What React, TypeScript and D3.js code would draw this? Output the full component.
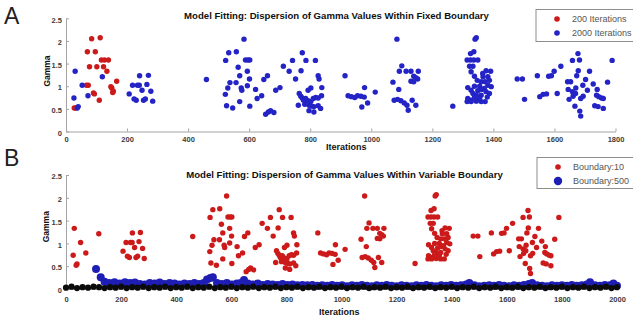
import { useEffect, useRef } from 'react'
import * as d3 from 'd3'

type Pt = [number, number] // [iteration, gamma]

const FONT = '"Liberation Sans", Arial, Helvetica, sans-serif'
const RED = '#cc1a1a'
const BLUE = '#2323c6'
const BLUE_B = '#1e1eb4'
const BLACK = '#0b0b0b'
const AXIS = '#a3a3a3'

// ---- panel A: fixed boundary ----
const A_X_TICKS = [0, 200, 400, 600, 800, 1000, 1200, 1400, 1600, 1800]
const B_X_TICKS = [0, 200, 400, 600, 800, 1000, 1200, 1400, 1600, 1800, 2000]
const Y_TICKS = [0, 0.5, 1, 1.5, 2, 2.5]

const fixed200: Pt[] = [
  [84, 2.05], [112, 2.07], [70, 1.76], [96, 1.76], [77, 1.43], [101, 1.43],
  [116, 1.58], [126, 1.58], [139, 1.58], [123, 1.43], [134, 1.33], [73, 1.02],
  [67, 1.02], [90, 0.85], [93, 0.83], [147, 0.99], [150, 0.96], [155, 0.89],
  [153, 0.86], [166, 1.11], [109, 0.69], [27, 0.52], [32, 0.52],
]

const fixed2000: Pt[] = [
  [30, 1.33], [26, 0.74], [40, 0.55], [37, 0.52], [53, 1.02], [72, 0.79], [119, 1.21],
  [207, 0.83], [218, 1.02], [234, 1.02], [240, 1.02], [241, 1.23], [270, 1.24], [265, 1.04],
  [249, 0.91], [223, 0.72], [230, 0.69], [254, 0.69], [260, 0.72], [278, 0.89], [284, 0.67],
  [460, 1.15], [583, 2.04], [533, 1.74], [558, 1.76], [523, 1.57], [588, 1.58], [596, 1.58],
  [602, 1.58], [564, 1.42], [594, 1.33], [569, 1.23], [537, 1.08], [530, 0.96], [557, 1.08],
  [574, 0.96], [576, 0.91], [594, 1.01], [601, 1.16], [522, 0.82], [621, 0.93], [648, 1.15],
  [660, 1.23], [526, 0.57], [546, 0.52], [569, 0.66], [602, 0.56], [626, 0.73], [641, 0.79],
  [654, 0.38], [663, 0.43], [670, 0.46], [681, 0.42], [687, 0.91], [701, 0.97], [712, 1.44],
  [731, 1.33], [742, 1.57], [774, 1.74], [770, 1.34], [786, 1.57], [817, 1.57], [752, 1.16],
  [826, 1.23], [829, 1.16], [802, 0.96], [793, 0.91], [838, 0.97], [764, 0.84], [769, 0.78],
  [774, 0.74], [778, 0.69], [785, 0.73], [793, 0.68], [802, 0.66], [810, 0.73], [818, 0.75],
  [826, 0.74], [837, 0.79], [761, 0.58], [782, 0.6], [796, 0.58], [805, 0.56], [812, 0.55],
  [826, 0.57], [834, 0.51], [796, 0.46], [812, 0.43],
  [914, 1.23], [1084, 2.04], [1100, 1.45], [1092, 1.33], [1114, 1.33], [1130, 1.33], [1154, 1.33],
  [1139, 1.22], [1146, 1.19], [1130, 1.11], [1139, 1.1], [1152, 1.16], [1071, 1.09], [1090, 0.93],
  [978, 0.97], [1013, 0.87], [924, 0.79], [935, 0.77], [946, 0.75], [955, 0.79], [966, 0.78],
  [977, 0.76], [988, 0.63], [969, 0.54], [1075, 0.69], [1086, 0.71], [1097, 0.68], [1108, 0.63],
  [1117, 0.58], [1134, 0.69], [1146, 0.58], [1121, 0.47], [1267, 0.56],
  [1340, 2.04], [1344, 2.07], [1325, 1.72], [1336, 1.76], [1314, 1.58], [1325, 1.58], [1336, 1.58],
  [1349, 1.58], [1322, 1.44], [1333, 1.44], [1327, 1.32], [1376, 1.34], [1391, 1.33], [1338, 1.22],
  [1366, 1.21], [1382, 1.21], [1347, 1.13], [1360, 1.1], [1373, 1.1], [1387, 1.13], [1338, 1.0],
  [1355, 1.0], [1382, 1.02], [1393, 0.99], [1316, 0.97], [1327, 0.91], [1349, 0.9], [1362, 0.93],
  [1376, 0.88], [1333, 0.84], [1344, 0.8], [1360, 0.8], [1387, 0.84], [1316, 0.73], [1327, 0.69],
  [1338, 0.75], [1355, 0.73], [1314, 0.66], [1327, 0.66], [1344, 0.67], [1360, 0.66], [1373, 0.66],
  [1370, 0.95], [1380, 0.76], [1365, 1.28],
  [1478, 1.16], [1495, 1.16], [1502, 0.71], [1544, 1.23], [1552, 0.77], [1563, 0.82], [1574, 0.83],
  [1581, 1.22], [1590, 1.23], [1599, 1.33], [1621, 1.44], [1609, 0.84], [1677, 1.72], [1659, 1.57],
  [1682, 1.58], [1678, 1.34], [1715, 1.33], [1673, 1.23], [1643, 1.1], [1653, 1.1], [1702, 1.15],
  [1693, 1.02], [1727, 1.05], [1774, 1.09], [1789, 1.57], [1645, 0.93], [1659, 0.88], [1670, 0.96],
  [1708, 0.91], [1740, 0.93], [1648, 0.71], [1661, 0.78], [1669, 0.84], [1686, 0.73], [1694, 0.78],
  [1738, 0.8], [1745, 0.77], [1754, 0.74], [1760, 0.73], [1667, 0.56], [1732, 0.57], [1743, 0.55],
  [1760, 0.51], [1683, 0.45], [1686, 0.34],
]

// ---- panel B: variable boundary ----
// boundary 10 run lands on exactly the same gammas as the fixed 2000-iteration run
const variable10: Pt[] = fixed2000

const variable500: Pt[] = [
  [109, 0.44], [126, 0.26], [140, 0.16], [158, 0.13], [176, 0.15], [195, 0.12], [214, 0.15],
  [232, 0.13], [250, 0.14], [268, 0.11], [286, 0.1], [304, 0.13], [322, 0.12], [340, 0.14],
  [358, 0.11], [376, 0.13], [394, 0.12], [412, 0.1], [430, 0.12], [448, 0.11], [466, 0.13],
  [484, 0.11], [500, 0.13], [512, 0.21], [524, 0.24], [533, 0.26], [548, 0.13], [566, 0.11],
  [584, 0.13], [602, 0.1], [620, 0.12], [634, 0.13], [646, 0.2], [660, 0.12], [678, 0.1],
  [696, 0.12], [714, 0.09], [732, 0.11], [750, 0.1], [768, 0.09], [786, 0.11], [804, 0.09],
  [822, 0.1], [840, 0.08], [858, 0.09], [876, 0.08], [894, 0.09], [912, 0.07], [930, 0.08],
  [948, 0.07], [966, 0.09], [984, 0.07], [1002, 0.08], [1020, 0.06], [1038, 0.08], [1056, 0.07],
  [1074, 0.09], [1092, 0.07], [1110, 0.06], [1128, 0.08], [1146, 0.07], [1164, 0.09], [1182, 0.07],
  [1200, 0.06], [1218, 0.08], [1236, 0.07], [1254, 0.06], [1272, 0.08], [1290, 0.07], [1308, 0.09],
  [1326, 0.07], [1344, 0.06], [1362, 0.08], [1380, 0.07], [1398, 0.09], [1416, 0.07], [1434, 0.08],
  [1452, 0.1], [1464, 0.13], [1482, 0.08], [1500, 0.06], [1518, 0.07], [1536, 0.08], [1554, 0.07],
  [1572, 0.09], [1590, 0.07], [1608, 0.06], [1626, 0.08], [1644, 0.07], [1662, 0.09], [1680, 0.11],
  [1692, 0.13], [1710, 0.08], [1728, 0.07], [1746, 0.06], [1764, 0.08], [1782, 0.07], [1800, 0.08],
  [1818, 0.07], [1836, 0.09], [1854, 0.07], [1872, 0.08], [1890, 0.1], [1902, 0.15], [1920, 0.08],
  [1938, 0.07], [1956, 0.09], [1974, 0.08], [1987, 0.12], [2000, 0.07],
]

const variableBase: Pt[] = [
  [0, 0.03], [20, 0.05], [40, 0.02], [60, 0.04], [80, 0.03], [100, 0.05], [120, 0.04],
  [140, 0.02], [160, 0.04], [180, 0.03], [200, 0.05], [220, 0.02], [240, 0.04], [260, 0.03],
  [280, 0.05], [300, 0.02], [320, 0.04], [340, 0.03], [360, 0.05], [380, 0.02], [400, 0.04],
  [420, 0.03], [440, 0.05], [460, 0.02], [480, 0.04], [500, 0.03], [520, 0.05], [540, 0.02],
  [560, 0.04], [580, 0.03], [600, 0.05], [620, 0.02], [640, 0.04], [660, 0.03], [680, 0.05],
  [700, 0.02], [720, 0.04], [740, 0.03], [760, 0.05], [780, 0.02], [800, 0.04], [820, 0.03],
  [840, 0.05], [860, 0.02], [880, 0.04], [900, 0.03], [920, 0.05], [940, 0.02], [960, 0.04],
  [980, 0.03], [1000, 0.05], [1020, 0.02], [1040, 0.04], [1060, 0.03], [1080, 0.05], [1100, 0.02],
  [1120, 0.04], [1140, 0.03], [1160, 0.05], [1180, 0.02], [1200, 0.04], [1220, 0.03], [1240, 0.05],
  [1260, 0.02], [1280, 0.04], [1300, 0.03], [1320, 0.05], [1340, 0.02], [1360, 0.04], [1380, 0.03],
  [1400, 0.05], [1420, 0.02], [1440, 0.04], [1460, 0.03], [1480, 0.05], [1500, 0.02], [1520, 0.04],
  [1540, 0.03], [1560, 0.05], [1580, 0.02], [1600, 0.04], [1620, 0.03], [1640, 0.05], [1660, 0.02],
  [1680, 0.04], [1700, 0.03], [1720, 0.05], [1740, 0.02], [1760, 0.04], [1780, 0.03], [1800, 0.05],
  [1820, 0.02], [1840, 0.04], [1860, 0.03], [1880, 0.05], [1900, 0.02], [1920, 0.04], [1940, 0.03],
  [1960, 0.05], [1980, 0.02], [2000, 0.04],
]

type Sel = d3.Selection<SVGGElement, unknown, null, undefined>

function drawAxes(g: Sel, x: d3.ScaleLinear<number, number>, y: d3.ScaleLinear<number, number>,
  xTicks: number[], padX: number) {
  const xa = g.append('g')
    .attr('transform', `translate(0,${y(0)})`)
    .call(d3.axisBottom(x).tickValues(xTicks).tickSize(-3).tickSizeOuter(0).tickPadding(padX)
      .tickFormat(d => String(d)))
  const ya = g.append('g')
    .attr('transform', `translate(${x(0)},0)`)
    .call(d3.axisLeft(y).tickValues(Y_TICKS).tickSize(-3).tickSizeOuter(0).tickPadding(4)
      .tickFormat(d => String(d)))
  ya.selectAll('text').attr('dy', '0.5em')
  for (const ax of [xa, ya]) {
    ax.select('.domain').attr('stroke', AXIS)
    ax.selectAll('.tick line').attr('stroke', AXIS)
    ax.selectAll('text')
      .style('font-family', FONT).style('font-size', '7.5px').style('font-weight', 'bold')
      .attr('fill', '#3c3c3c')
  }
}

function dots(g: Sel, data: Pt[], x: d3.ScaleLinear<number, number>, y: d3.ScaleLinear<number, number>,
  r: number, color: string) {
  g.append('g').selectAll('circle')
    .data(data)
    .join('circle')
    .attr('cx', d => x(d[0]))
    .attr('cy', d => y(d[1]))
    .attr('r', r)
    .attr('fill', color)
}

function label(g: Sel, txt: string, x: number, y: number, size: number, opts: { bold?: boolean, anchor?: string, fill?: string, rotate?: boolean } = {}) {
  const t = g.append('text')
    .attr('x', x).attr('y', y)
    .attr('text-anchor', opts.anchor ?? 'start')
    .style('font-family', FONT).style('font-size', `${size}px`)
    .style('font-weight', opts.bold ? 'bold' : 'normal')
    .attr('fill', opts.fill ?? '#111')
    .text(txt)
  if (opts.rotate) t.attr('transform', `rotate(-90,${x},${y})`)
}

function legend(g: Sel, x: number, y: number, h: number, rows: { name: string, color: string, r: number }[]) {
  g.append('rect').attr('x', x).attr('y', y).attr('width', 120).attr('height', h)
    .attr('fill', '#fff').attr('stroke', '#8e8e8e').attr('stroke-width', 1)
  rows.forEach((row, i) => {
    const cy = y + 9.5 + i * 14
    g.append('circle').attr('cx', x + 21).attr('cy', cy).attr('r', row.r).attr('fill', row.color)
    label(g, row.name, x + 36, cy + 3.2, 9, { fill: '#555' })
  })
}

export default function App() {
  const svgRef = useRef<SVGSVGElement>(null)

  useEffect(() => {
    if (!svgRef.current) return
    const svg = d3.select(svgRef.current)
    svg.selectAll('*').remove()
    const root = svg.append('g') as unknown as Sel

    // panel A
    const xA = d3.scaleLinear().domain([0, 1800]).range([66, 615.5])
    const yA = d3.scaleLinear().domain([0, 2.5]).range([131.5, 18.3])
    drawAxes(root, xA, yA, A_X_TICKS, 5)
    dots(root, fixed200, xA, yA, 2.7, RED)
    dots(root, fixed2000, xA, yA, 2.7, BLUE)
    label(root, 'A', 4, 23.5, 23, { fill: '#222' })
    label(root, 'Model Fitting: Dispersion of Gamma Values Within Fixed Boundary', 336.5, 19, 9.6, { bold: true, anchor: 'middle' })
    label(root, 'Gamma', 49.5, 71, 8.5, { bold: true, anchor: 'middle', rotate: true })
    label(root, 'Iterations', 326, 149.5, 9, { bold: true })
    legend(root, 536, 9.5, 32, [
      { name: '200 Iterations', color: RED, r: 2.8 },
      { name: '2000 Iterations', color: BLUE, r: 2.8 },
    ])

    // panel B
    const xB = d3.scaleLinear().domain([0, 2000]).range([66, 617])
    const yB = d3.scaleLinear().domain([0, 2.5]).range([289, 175])
    drawAxes(root, xB, yB, B_X_TICKS, 8)
    dots(root, variable10, xB, yB, 2.7, RED)
    dots(root, variable500, xB, yB, 4, BLUE_B)
    dots(root, variableBase, xB, yB, 3.1, BLACK)
    label(root, 'B', 4, 166, 23, { fill: '#222' })
    label(root, 'Model Fitting: Dispersion of Gamma Values Within Variable Boundary', 344.5, 177.8, 9.6, { bold: true, anchor: 'middle' })
    label(root, 'Gamma', 49.5, 226.7, 8.5, { bold: true, anchor: 'middle', rotate: true })
    label(root, 'Iterations', 319, 315, 9, { bold: true })
    legend(root, 537, 157.5, 31, [
      { name: 'Boundary:10', color: RED, r: 2.8 },
      { name: 'Boundary:500', color: BLUE_B, r: 4.2 },
    ])
  }, [])

  return (
    <svg ref={svgRef} width={633} height={320}
      style={{ position: 'absolute', left: 0, top: 0, display: 'block', background: '#fff' }} />
  )
}
